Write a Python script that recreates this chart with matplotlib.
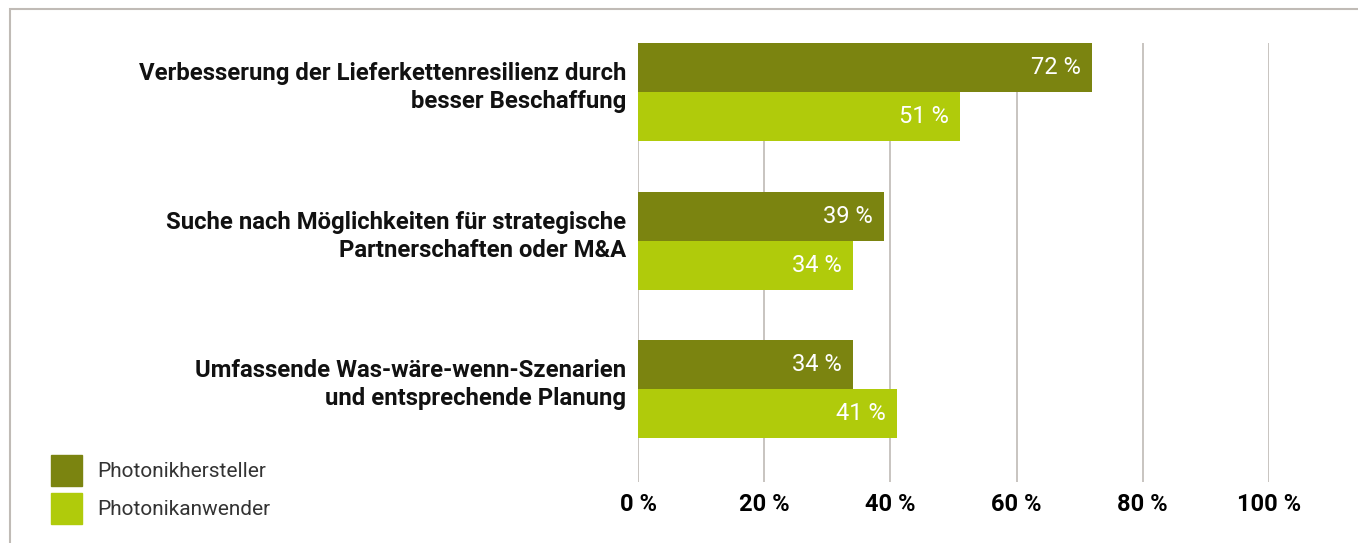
import matplotlib.pyplot as plt
from matplotlib.patches import Rectangle, Patch
import numpy as np

# data
categories = ['Verbesserung der Lieferkettenresilienz durch\nbesser Beschaffung',
              'Suche nach Möglichkeiten für strategische\nPartnerschaften oder M&A',
              'Umfassende Was-wäre-wenn-Szenarien\nund entsprechende Planung']
hersteller = [72, 39, 34]
anwender = [51, 34, 41]
series_names = ['Photonikhersteller', 'Photonikanwender']
xticks = [0, 20, 40, 60, 80, 100]

dark = '#7b8410'
light = '#b0cb0b'
gridc = '#bfbab5'

plt.rcParams['font.family'] = ['Roboto', 'DejaVu Sans']

W, H = 1358, 543
fig = plt.figure(figsize=(W / 100, H / 100), dpi=100)
ax = fig.add_axes([638 / W, 1 - 482 / H, (1269 - 638) / W, (482 - 43) / H])

y = np.arange(len(categories))
h = 0.33
b1 = ax.barh(y - h / 2, hersteller, height=h, color=dark, zorder=3)
b2 = ax.barh(y + h / 2, anwender, height=h, color=light, zorder=3)

for bars, vals in ((b1, hersteller), (b2, anwender)):
    for rect, v in zip(bars, vals):
        ax.annotate('%d %%' % v, (v, rect.get_y() + rect.get_height() / 2),
                    xytext=(-8, 0), textcoords='offset points',
                    ha='right', va='center', color='white', fontsize=17, zorder=4)

ax.set_xlim(0, 100)
ax.set_ylim(len(categories) - 1 + 0.626, -0.33)
ax.set_xticks(xticks)
ax.set_xticklabels(['%d %%' % t for t in xticks], fontsize=17, fontweight='bold')
ax.tick_params(axis='x', length=0, pad=8)
ax.set_yticks([])
ax.grid(axis='x', color=gridc, linewidth=1.2, zorder=0)
for s in ax.spines.values():
    s.set_visible(False)

for yi, cat in zip(y, categories):
    ax.text(-1.9, yi - 0.03, cat, ha='right', va='center', fontsize=17.2,
            fontweight='bold', linespacing=1.28, color='#111111',
            transform=ax.transData)

handles = [Patch(color=dark), Patch(color=light)]
fig.legend(handles, series_names, loc='lower left',
           bbox_to_anchor=(51 / W, 19 / H), frameon=False,
           handlelength=1.48, handleheight=1.92, handletextpad=0.72,
           labelspacing=0.34, borderpad=0, borderaxespad=0,
           labelcolor='#333333', prop={'weight': 'normal', 'size': 15})

# outer frame
fig.add_artist(Rectangle((10 / W, -0.1), 1.2, 1.1 - 9 / H, transform=fig.transFigure,
                         fill=False, edgecolor='#c0bbb6', linewidth=1.5))

fig.savefig('out.png', dpi=100)
